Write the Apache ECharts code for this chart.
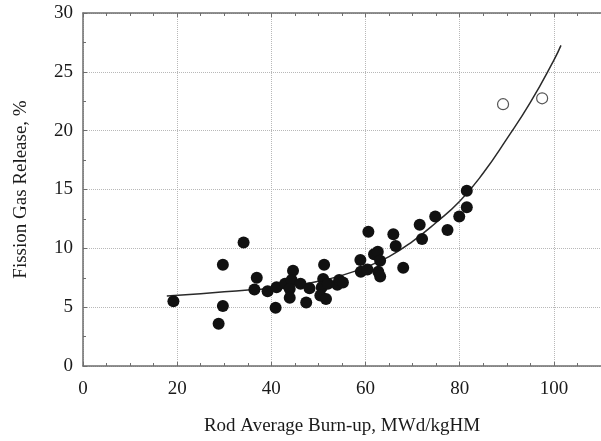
<!DOCTYPE html>
<html>
<head>
<meta charset="utf-8">
<script src="https://cdn.jsdelivr.net/npm/echarts@6/dist/echarts.min.js"></script>
<style>
  html, body { margin: 0; padding: 0; background: #fff; }
  #chart { width: 601px; height: 441px; }
</style>
</head>
<body>
<div id="chart"></div>
<script>
// measured rods (filled dots)
const burnup = [19.2, 34.1, 29.7, 29.7, 28.8, 36.9, 36.4, 39.2, 40.9, 41.1, 42.9, 44.6, 44.3, 43.9, 43.9, 46.2,
  47.4, 48.1, 51.2, 51.0, 50.7, 50.4, 51.6, 52.0, 54.0, 54.4, 55.2, 58.9, 59.0, 60.4, 60.6, 61.8,
  62.6, 63.1, 62.7, 63.1, 65.9, 66.4, 68.0, 71.5, 72.0, 74.8, 77.4, 79.9, 81.5, 81.5];
const fgr = [5.5, 10.5, 8.6, 5.1, 3.6, 7.5, 6.5, 6.35, 4.95, 6.7, 7.0, 8.1, 7.3, 6.55, 5.8, 7.0,
  5.4, 6.6, 8.6, 7.4, 6.7, 6.0, 5.7, 7.0, 6.9, 7.3, 7.1, 9.0, 8.0, 8.2, 11.4, 9.5,
  9.7, 8.95, 8.0, 7.6, 11.2, 10.2, 8.35, 12.0, 10.8, 12.7, 11.55, 12.7, 13.5, 14.9];
// open circles
const openBurnup = [89.2, 97.5];
const openFgr = [22.25, 22.75];
// trend curve
const curveX = [17.8, 25, 30, 35, 40, 45, 50, 55, 60, 65, 70, 75, 80, 85, 90, 95, 100, 101.5];
const curveY = [5.95, 6.15, 6.3, 6.45, 6.6, 6.85, 7.2, 7.7, 8.4, 9.3, 10.6, 12.2, 14.0, 16.4, 19.3, 22.4, 26.0, 27.25];
// axes
const xTicks = [0, 20, 40, 60, 80, 100];
const yTicks = [0, 5, 10, 15, 20, 25, 30];

const font = 'Liberation Serif';
const txt = '#1a1a1a';
const axisCol = '#6e6e6e';

const pts = burnup.map((x, i) => [x, fgr[i]]);
const openPts = openBurnup.map((x, i) => [x, openFgr[i]]);
const curve = curveX.map((x, i) => [x, curveY[i]]);

const chart = echarts.init(document.getElementById('chart'));

function baseX(show) {
  return {
    type: 'value', min: 0, max: 110, interval: xTicks[1] - xTicks[0],
    axisLine: { show: true, lineStyle: { color: axisCol, width: 1.5 } },
    axisTick: { show: true, inside: true, length: 4, lineStyle: { color: axisCol } },
    minorTick: { show: true, splitNumber: 4, length: 3, lineStyle: { color: axisCol } },
    splitLine: { show: show, lineStyle: { color: '#b8b8b8', type: 'dotted' } },
    axisLabel: {
      show: show, margin: 14, color: txt, fontFamily: font, fontSize: 19, showMaxLabel: false,
      formatter: v => xTicks.indexOf(v) >= 0 ? String(v) : ''
    }
  };
}

chart.setOption({
  animation: false,
  grid: { left: 83, top: 13, width: 522, height: 354.7 },
  xAxis: [
    Object.assign(baseX(true), {
      position: 'bottom',
      name: 'Rod Average Burn-up, MWd/kgHM', nameLocation: 'middle', nameGap: 51,
      nameTextStyle: { color: txt, fontFamily: font, fontSize: 19 }
    }),
    Object.assign(baseX(false), { position: 'top' })
  ],
  yAxis: {
    type: 'value', min: 0, max: 30, interval: yTicks[1] - yTicks[0],
    name: 'Fission Gas Release, %', nameLocation: 'middle', nameGap: 52,
    nameTextStyle: { color: txt, fontFamily: font, fontSize: 19 },
    axisLine: { show: true, lineStyle: { color: axisCol, width: 1.5 } },
    axisTick: { show: true, inside: true, length: 4, lineStyle: { color: axisCol } },
    minorTick: { show: true, splitNumber: 2, length: 3, lineStyle: { color: axisCol } },
    splitLine: { show: true, lineStyle: { color: '#b8b8b8', type: 'dotted' } },
    axisLabel: { margin: 10, color: txt, fontFamily: font, fontSize: 19 }
  },
  series: [
    {
      type: 'line', data: curve, smooth: true, symbol: 'none',
      lineStyle: { color: '#2a2a2a', width: 1.5 }, z: 2
    },
    {
      type: 'scatter', data: pts, symbolSize: 12,
      itemStyle: { color: '#111', opacity: 1 }, z: 3
    },
    {
      type: 'scatter', data: openPts, symbolSize: 11,
      itemStyle: { color: '#fff', borderColor: '#555', borderWidth: 1.2, opacity: 1 }, z: 3
    }
  ]
});
</script>
</body>
</html>
